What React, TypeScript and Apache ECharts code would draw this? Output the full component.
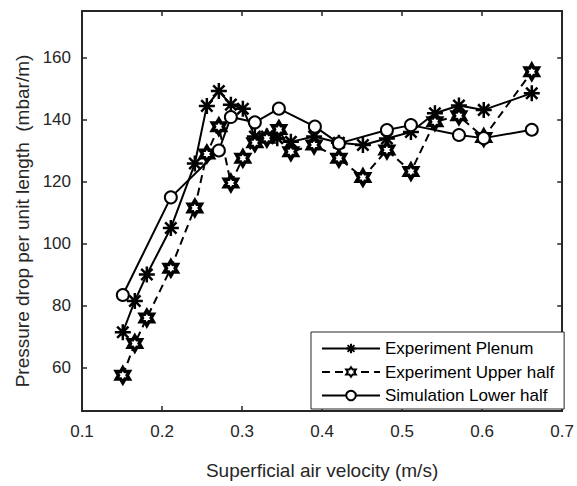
import React, { useEffect, useRef } from "react";
import * as echarts from "echarts";

const plenumX = [0.151, 0.166, 0.181, 0.211, 0.241, 0.256, 0.271, 0.286, 0.301, 0.316, 0.331, 0.344, 0.361, 0.39, 0.421, 0.451, 0.481, 0.511, 0.541, 0.571, 0.602, 0.662];
const plenumY = [71.4, 81.5, 90, 105, 125.8, 144.4, 149.2, 144.8, 143.5, 134.5, 134.5, 134, 132.8, 134.5, 132.5, 131.8, 133.9, 136, 142, 144.5, 143.1, 148.5];
const upperX = [0.151, 0.166, 0.181, 0.211, 0.241, 0.256, 0.271, 0.286, 0.301, 0.316, 0.331, 0.346, 0.361, 0.39, 0.421, 0.451, 0.481, 0.511, 0.541, 0.571, 0.602, 0.662];
const upperY = [57.5, 67.8, 76, 92, 111.5, 128.9, 137.7, 119.5, 127.5, 132.5, 134, 136.8, 129.6, 131.8, 127.5, 121.3, 130.2, 123.2, 139.3, 141.2, 134.2, 155.4];
const simX = [0.151, 0.211, 0.271, 0.286, 0.316, 0.346, 0.391, 0.421, 0.481, 0.511, 0.571, 0.602, 0.662];
const simY = [83.4, 114.9, 130, 140.8, 139.1, 143.5, 137.7, 132.3, 136.6, 138.2, 135, 134, 136.7];
const yTicks = [60, 80, 100, 120, 140, 160];
const seriesNames = ["Experiment Plenum", "Experiment Upper half", "Simulation Lower half"];
const xTitle = "Superficial air velocity (m/s)";
const yTitle = "Pressure drop per unit length  (mbar/m)";

const ASTERISK = "path://M0 -10 L0 10 M-10 0 L10 0 M-7.07 -7.07 L7.07 7.07 M-7.07 7.07 L7.07 -7.07";
const HEXAGRAM = "path://M0 -10 L2.887 -5 L8.66 -5 L5.774 0 L8.66 5 L2.887 5 L0 10 L-2.887 5 L-8.66 5 L-5.774 0 L-8.66 -5 L-2.887 -5 Z";

const FONT = "'Liberation Sans', Arial, sans-serif";
const AX = "#262626";

function pairs(xs: number[], ys: number[]) {
  return xs.map((x, i) => [x, ys[i]]);
}

export default function App() {
  const ref = useRef<HTMLDivElement>(null);
  useEffect(() => {
    const chart = echarts.init(ref.current!, null, { renderer: "svg" });
    const xBase = {
      type: "value" as const,
      min: 0.1,
      max: 0.7,
      interval: 0.1,
      splitLine: { show: false },
      axisLine: { show: true, onZero: false, lineStyle: { color: AX, width: 2 } },
      axisTick: { show: true, inside: true, length: 5, lineStyle: { color: AX, width: 1.5 } },
    };
    const yBase = {
      type: "value" as const,
      min: 46,
      max: 175,
      splitLine: { show: false },
      axisLine: { show: true, onZero: false, lineStyle: { color: AX, width: 2 } },
      axisTick: { show: true, inside: true, length: 5, customValues: yTicks, lineStyle: { color: AX, width: 1.5 } },
    };
    chart.setOption({
      animation: false,
      backgroundColor: "#ffffff",
      grid: { left: 82, top: 11, width: 484, height: 400, containLabel: false },
      graphic: [
        {
          type: "text",
          x: 22,
          y: 221,
          rotation: Math.PI / 2,
          style: {
            text: yTitle,
            fontFamily: FONT,
            fontSize: 19,
            fill: AX,
            align: "center",
            verticalAlign: "middle",
          },
        },
      ],
      xAxis: [
        {
          ...xBase,
          position: "bottom",
          name: xTitle,
          nameLocation: "middle",
          nameGap: 50,
          nameTextStyle: { fontFamily: FONT, fontSize: 19, color: AX },
          axisLabel: {
            show: true,
            margin: 12,
            fontFamily: FONT,
            fontSize: 17,
            color: AX,
            formatter: (v: number) => v.toFixed(1),
          },
        },
        { ...xBase, position: "top", axisLabel: { show: false } },
      ],
      yAxis: [
        {
          ...yBase,
          position: "left",
          axisLabel: {
            show: true,
            margin: 11,
            fontFamily: FONT,
            fontSize: 17,
            color: AX,
            customValues: yTicks,
          },
        },
        { ...yBase, position: "right", axisLabel: { show: false } },
      ],
      legend: {
        show: true,
        orient: "vertical",
        left: 311,
        top: 332,
        padding: [8, 10, 5, 10],
        itemWidth: 58,
        itemHeight: 12,
        itemGap: 6.5,
        borderColor: AX,
        borderWidth: 1,
        backgroundColor: "#ffffff",
        textStyle: { fontFamily: FONT, fontSize: 17, color: "#000" },
        data: seriesNames,
      },
      series: [
        {
          name: seriesNames[0],
          type: "line",
          data: pairs(plenumX, plenumY),
          symbol: ASTERISK,
          symbolSize: 16,
          showAllSymbol: true,
          lineStyle: { color: "#000", width: 2 },
          itemStyle: { color: "#000", borderColor: "#000", borderWidth: 2.5 },
        },
        {
          name: seriesNames[1],
          type: "line",
          data: pairs(upperX, upperY),
          symbol: HEXAGRAM,
          symbolSize: 15,
          symbolKeepAspect: true,
          showAllSymbol: true,
          lineStyle: { color: "#000", width: 2, type: [8, 5] },
          itemStyle: { color: "#ffffff", borderColor: "#000", borderWidth: 3.5 },
        },
        {
          name: seriesNames[2],
          type: "line",
          data: pairs(simX, simY),
          symbol: "circle",
          symbolSize: 12,
          showAllSymbol: true,
          lineStyle: { color: "#000", width: 2 },
          itemStyle: { color: "#ffffff", borderColor: "#000", borderWidth: 2 },
        },
      ],
    });
    return () => chart.dispose();
  }, []);
  return (
    <div
      ref={ref}
      style={{ position: "fixed", left: 0, top: 0, width: 577, height: 486 }}
    />
  );
}
